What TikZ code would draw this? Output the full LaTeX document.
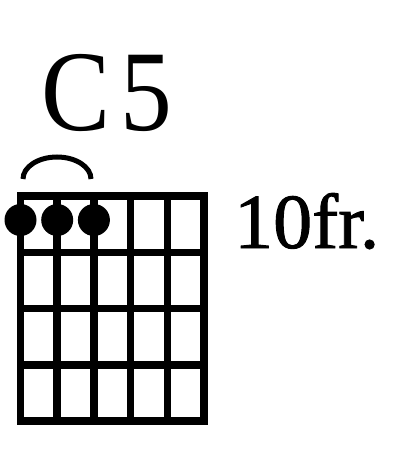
\documentclass[tikz,border=0pt]{standalone}
\usepackage{fontspec}
\setmainfont{Liberation Serif}
\newfontfamily\heavyserif[FakeBold=1.2]{Liberation Serif}
\begin{document}
\begin{tikzpicture}[x=1pt,y=-1pt,
  gridline/.style={line width=7.5pt,line cap=rect},
  fingerdot/.style={fill=black},
  barre/.style={line width=5pt}]
\useasboundingbox (0,0) rectangle (395,468);
\node[anchor=base,xscale=0.9,font=\fontsize{115}{115}\selectfont,inner sep=0pt] (chordname) at (107,130) {C\kern11pt5};
\draw[barre] (23,179) arc[start angle=180,end angle=0,x radius=34pt,y radius=22pt];
\draw[gridline] (20.5,196) -- (20.5,421);
\draw[gridline] (57.2,196) -- (57.2,421);
\draw[gridline] (93.9,196) -- (93.9,421);
\draw[gridline] (130.6,196) -- (130.6,421);
\draw[gridline] (167.3,196) -- (167.3,421);
\draw[gridline] (204,196) -- (204,421);
\draw[gridline] (20.5,196) -- (204,196);
\draw[gridline] (20.5,252.25) -- (204,252.25);
\draw[gridline] (20.5,308.5) -- (204,308.5);
\draw[gridline] (20.5,364.75) -- (204,364.75);
\draw[gridline] (20.5,421) -- (204,421);
\fill[fingerdot] (20.5,220) circle (16pt);
\fill[fingerdot] (57.2,220) circle (16pt);
\fill[fingerdot] (93.9,220) circle (16pt);
\node[anchor=base west,font=\heavyserif\fontsize{78}{78}\selectfont,inner sep=0pt] (fretlabel) at (234,248) {10fr.};
\end{tikzpicture}
\end{document}
